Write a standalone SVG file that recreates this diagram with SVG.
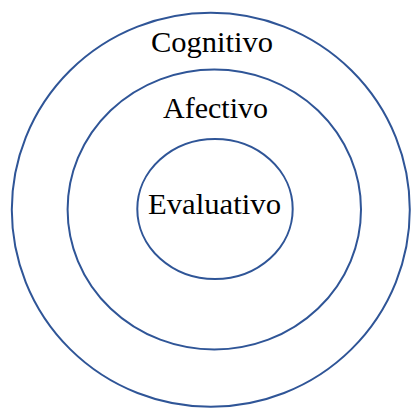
<svg xmlns="http://www.w3.org/2000/svg" width="411" height="408" viewBox="0 0 411 408">
<style>
.ring{fill:none;stroke:#2f5597;stroke-width:2}
.lbl{font-family:"Liberation Serif","DejaVu Serif",serif;font-size:30px;fill:#000;text-anchor:middle}
</style>
<rect width="411" height="408" fill="#fff"/>
<g id="cognitivo">
<ellipse class="ring" cx="210.8" cy="209.8" rx="199" ry="197"/>
<text class="lbl" x="212" y="52" textLength="122" lengthAdjust="spacingAndGlyphs">Cognitivo</text>
</g>
<g id="afectivo">
<ellipse class="ring" cx="214.3" cy="209.5" rx="146.7" ry="140"/>
<text class="lbl" x="215.5" y="118" textLength="105" lengthAdjust="spacingAndGlyphs">Afectivo</text>
</g>
<g id="evaluativo">
<ellipse class="ring" cx="215" cy="209" rx="77.7" ry="70"/>
<text class="lbl" x="214.5" y="214" textLength="133" lengthAdjust="spacingAndGlyphs">Evaluativo</text>
</g>
<g id="connectors"/>
</svg>
